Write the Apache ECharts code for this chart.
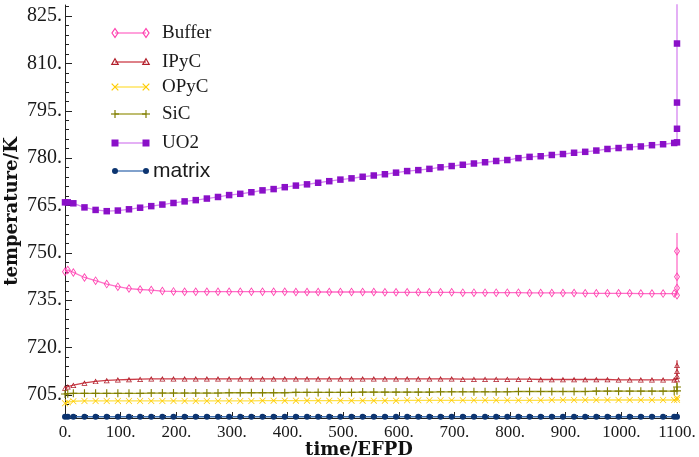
<!DOCTYPE html>
<html><head><meta charset="utf-8">
<script src="https://cdn.jsdelivr.net/npm/echarts@6/dist/echarts.min.js"></script>
<style>html,body{margin:0;padding:0;background:#fff}#c{width:699px;height:457px}</style>
</head><body><div id="c"></div>
<script>
// time points (EFPD)
const times = [0,5,15,35,55,75,95,115,135,155,175,195,215,235,255,275,295,315,335,355,375,395,415,435,455,475,495,515,535,555,575,595,615,635,655,675,695,715,735,755,775,795,815,835,855,875,895,915,935,955,975,995,1015,1035,1055,1075,1095];
const spikeTime = 1100;

const bufferMain = [744.0,744.6,743.8,742.2,741.2,740.1,739.3,738.7,738.4,738.2,737.9,737.8,737.7,737.7,737.7,737.7,737.7,737.7,737.7,737.7,737.7,737.7,737.6,737.6,737.6,737.6,737.6,737.6,737.6,737.6,737.5,737.5,737.5,737.5,737.5,737.5,737.5,737.4,737.4,737.4,737.4,737.4,737.4,737.3,737.3,737.3,737.3,737.3,737.2,737.2,737.2,737.2,737.2,737.1,737.1,737.1,737.1];
const bufferSpike = [736.6,738.9,742.4,750.5,756.3];

const ipycMain = [707.2,707.6,708.1,708.8,709.3,709.6,709.8,709.9,710.0,710.1,710.1,710.1,710.1,710.1,710.1,710.1,710.1,710.1,710.1,710.1,710.1,710.1,710.1,710.1,710.1,710.1,710.1,710.1,710.1,710.1,710.1,710.1,710.1,710.1,710.1,710.1,710.1,710.0,710.0,710.0,710.0,710.0,710.0,710.0,709.9,709.9,709.9,709.9,709.9,709.9,709.9,709.8,709.8,709.8,709.8,709.8,709.8];
const ipycSpike = [709.9,711.0,712.5,714.4,716.0];

const opycMain = [702.4,702.7,703.0,703.1,703.1,703.1,703.1,703.1,703.1,703.1,703.1,703.1,703.1,703.1,703.1,703.1,703.1,703.1,703.1,703.2,703.2,703.2,703.2,703.2,703.2,703.2,703.2,703.2,703.2,703.2,703.2,703.2,703.3,703.3,703.3,703.3,703.3,703.3,703.3,703.3,703.3,703.3,703.3,703.3,703.3,703.4,703.4,703.4,703.4,703.4,703.4,703.4,703.4,703.4,703.4,703.4,703.4];
const opycSpike = [703.5,704.0,704.5];

const sicMain = [705.3,705.4,705.5,705.5,705.5,705.5,705.5,705.5,705.5,705.6,705.6,705.6,705.6,705.6,705.6,705.6,705.7,705.7,705.7,705.7,705.7,705.7,705.8,705.8,705.8,705.8,705.8,705.8,705.9,705.9,705.9,705.9,705.9,705.9,705.9,706.0,706.0,706.0,706.0,706.0,706.0,706.0,706.1,706.1,706.1,706.1,706.1,706.1,706.1,706.2,706.2,706.2,706.2,706.2,706.2,706.2,706.2];
const sicSpike = [706.3,707.5,709.0];

const uo2Main = [766.0,766.0,765.7,764.4,763.6,763.2,763.4,763.8,764.3,764.8,765.3,765.8,766.3,766.7,767.2,767.7,768.3,768.7,769.2,769.8,770.2,770.8,771.3,771.7,772.2,772.7,773.2,773.6,774.1,774.5,774.9,775.4,775.9,776.2,776.6,777.1,777.5,777.9,778.3,778.7,779.1,779.4,780.0,780.4,780.6,781.0,781.3,781.7,782.0,782.4,782.9,783.2,783.5,783.7,784.1,784.4,784.8];
const uo2Spike = [785.0,789.3,797.6,816.3,840.0];

const matrixMain = [698.1,698.1,698.1,698.1,698.1,698.1,698.1,698.1,698.1,698.1,698.1,698.1,698.1,698.1,698.1,698.1,698.1,698.1,698.1,698.1,698.1,698.1,698.1,698.1,698.1,698.1,698.1,698.1,698.1,698.1,698.1,698.1,698.1,698.1,698.1,698.1,698.1,698.1,698.1,698.1,698.1,698.1,698.1,698.1,698.1,698.1,698.1,698.1,698.1,698.1,698.1,698.1,698.1,698.1,698.1,698.1,698.1];
const matrixSpike = [698.1];

const seriesNames = ['Buffer','IPyC','OPyC','SiC','UO2','matrix'];
const yMajorTicks = [705,720,735,750,765,780,795,810,825];
const yMinorTicks = [699,702,708,711,714,717,723,726,729,732,738,741,744,747,753,756,759,762,768,771,774,777,783,786,789,792,798,801,804,807,813,816,819,822,828];

const PLUS = 'path://M4.3,0H5.7V4.3H10V5.7H5.7V10H4.3V5.7H0V4.3H4.3Z';
const CROSS = 'path://M0.8,0L5,4.2L9.2,0L10,0.8L5.8,5L10,9.2L9.2,10L5,5.8L0.8,10L0,9.2L4.2,5L0,0.8Z';
const DIAMOND_RING = 'path://M5,0L10,8L5,16L0,8Z M5,2.6L1.7,8L5,13.4L8.3,8Z';
const TRI_RING = 'path://M5,0L10,9L0,9Z M5,2.8L1.9,7.8L8.1,7.8Z';

const styles = {
  Buffer: {line:'#ff6fc8', mark:'#ff3fae', symbol:DIAMOND_RING, size:[6,9], kind:'diamond', hideLast:true},
  IPyC:   {line:'#cc3d48', mark:'#b01e2a', symbol:TRI_RING, size:[6,5.5], kind:'triangle', hideLast:true},
  OPyC:   {line:'#ffe14a', mark:'#ffcc00', symbol:CROSS, size:6.5, kind:'x', hideLast:true},
  SiC:    {line:'#9c9a22', mark:'#807e00', symbol:PLUS, size:8, kind:'plus', hideLast:true},
  UO2:    {line:'#d585f0', mark:'#8a10c8', symbol:'rect', size:6.5, kind:'square', hideLast:true},
  matrix: {line:'#3d6fb0', mark:'#0c3470', symbol:'circle', size:6, kind:'circle', hideLast:false}
};
const mains = {Buffer:bufferMain, IPyC:ipycMain, OPyC:opycMain, SiC:sicMain, UO2:uo2Main, matrix:matrixMain};
const spikes = {Buffer:bufferSpike, IPyC:ipycSpike, OPyC:opycSpike, SiC:sicSpike, UO2:uo2Spike, matrix:matrixSpike};

function build(name){
  const st = styles[name];
  const d = times.map((t,i)=>[t, mains[name][i]]);
  const sp = spikes[name];
  sp.forEach((v,j)=>{
    const item = {value:[spikeTime, v]};
    if (st.hideLast && j === sp.length-1) item.symbol = 'none';
    d.push(item);
  });
  return d;
}

const series = seriesNames.map(name=>{
  const st = styles[name];
  return {
    name, type:'line', data: build(name), clip:true,
    symbol: st.symbol, symbolSize: st.size,
    lineStyle:{color:st.line, width:1.3},
    itemStyle:{color:st.mark, borderWidth:0},
    emphasis:{disabled:true}
  };
});

// legend drawn as graphic (line with markers at both ends)
const legendRows = [33,62,87,114,143,171];
const legendX1 = 115, legendX2 = 146;
function marker(kind, cx, cy, color){
  const s = {stroke:color, fill:'rgba(255,255,255,0)', lineWidth:1.2};
  switch(kind){
    case 'diamond': return {type:'polygon', shape:{points:[[cx,cy-4.5],[cx+3,cy],[cx,cy+4.5],[cx-3,cy]]}, style:s};
    case 'triangle': return {type:'polygon', shape:{points:[[cx,cy-3.2],[cx+3.2,cy+2.3],[cx-3.2,cy+2.3]]}, style:s};
    case 'x': return {type:'group', children:[
      {type:'line', shape:{x1:cx-3.3,y1:cy-3.3,x2:cx+3.3,y2:cy+3.3}, style:{stroke:color,lineWidth:1.2}},
      {type:'line', shape:{x1:cx-3.3,y1:cy+3.3,x2:cx+3.3,y2:cy-3.3}, style:{stroke:color,lineWidth:1.2}}]};
    case 'plus': return {type:'group', children:[
      {type:'line', shape:{x1:cx-4,y1:cy,x2:cx+4,y2:cy}, style:{stroke:color,lineWidth:1.2}},
      {type:'line', shape:{x1:cx,y1:cy-4,x2:cx,y2:cy+4}, style:{stroke:color,lineWidth:1.2}}]};
    case 'square': return {type:'rect', shape:{x:cx-3.5,y:cy-3.5,width:7,height:7}, style:{fill:color}};
    default: return {type:'circle', shape:{cx,cy,r:3}, style:{fill:color}};
  }
}
const graphics = [];
seriesNames.forEach((name,i)=>{
  const st = styles[name], y = legendRows[i];
  graphics.push({type:'line', shape:{x1:legendX1,y1:y,x2:legendX2,y2:y}, style:{stroke:st.line,lineWidth:1.3}});
  graphics.push(marker(st.kind, legendX1, y, st.mark));
  graphics.push(marker(st.kind, legendX2, y, st.mark));
  const isSans = name === 'matrix';
  graphics.push({type:'text', x: isSans ? 153 : 162, y: y,
    style:{text:name, fill:'#1a1a1a', font: isSans ? '21px "Liberation Sans"' : '19px "Liberation Serif"', verticalAlign:'middle', align:'left'}});
});

const chart = echarts.init(document.getElementById('c'));
chart.setOption({
  animation:false,
  backgroundColor:'#fff',
  grid:{left:65, right:22, top:5, bottom:39, containLabel:false, outerBoundsMode:'none'},
  xAxis:{type:'value', min:0, max:1100, interval:100,
    name:'time/EFPD', nameLocation:'middle', nameGap:23, nameMoveOverlap:false,
    nameTextStyle:{fontFamily:'DejaVu Serif', fontWeight:'bold', fontSize:18, color:'#111', padding:[0,24,0,0]},
    axisLine:{show:true, onZero:false, lineStyle:{color:'#222', width:1}},
    axisTick:{show:true, inside:true, length:6, lineStyle:{color:'#222'}},
    minorTick:{show:true, splitNumber:5, length:3, lineStyle:{color:'#222'}},
    axisLabel:{formatter:v=>v+'.', fontFamily:'Liberation Serif', fontSize:17, color:'#1a1a1a', margin:6},
    splitLine:{show:false}},
  yAxis:[
    {type:'value', min:697.7, max:828.5, position:'left',
      name:'temperature/K', nameLocation:'middle', nameGap:44, nameRotate:90, nameMoveOverlap:false,
      nameTextStyle:{fontFamily:'DejaVu Serif', fontWeight:'bold', fontSize:18, color:'#111'},
      axisLine:{show:true, onZero:false, lineStyle:{color:'#222', width:1}},
      axisTick:{show:true, inside:true, length:7, customValues:yMajorTicks, lineStyle:{color:'#222'}},
      axisLabel:{customValues:yMajorTicks, formatter:v=>v+'.', fontFamily:'Liberation Serif', fontSize:20, color:'#1a1a1a', margin:3},
      splitLine:{show:false}},
    {type:'value', min:697.7, max:828.5, position:'left',
      axisLine:{show:false},
      axisTick:{show:true, inside:true, length:4, customValues:yMinorTicks, lineStyle:{color:'#222'}},
      axisLabel:{show:false}, splitLine:{show:false}}
  ],
  series,
  graphic: graphics
});
</script></body></html>
